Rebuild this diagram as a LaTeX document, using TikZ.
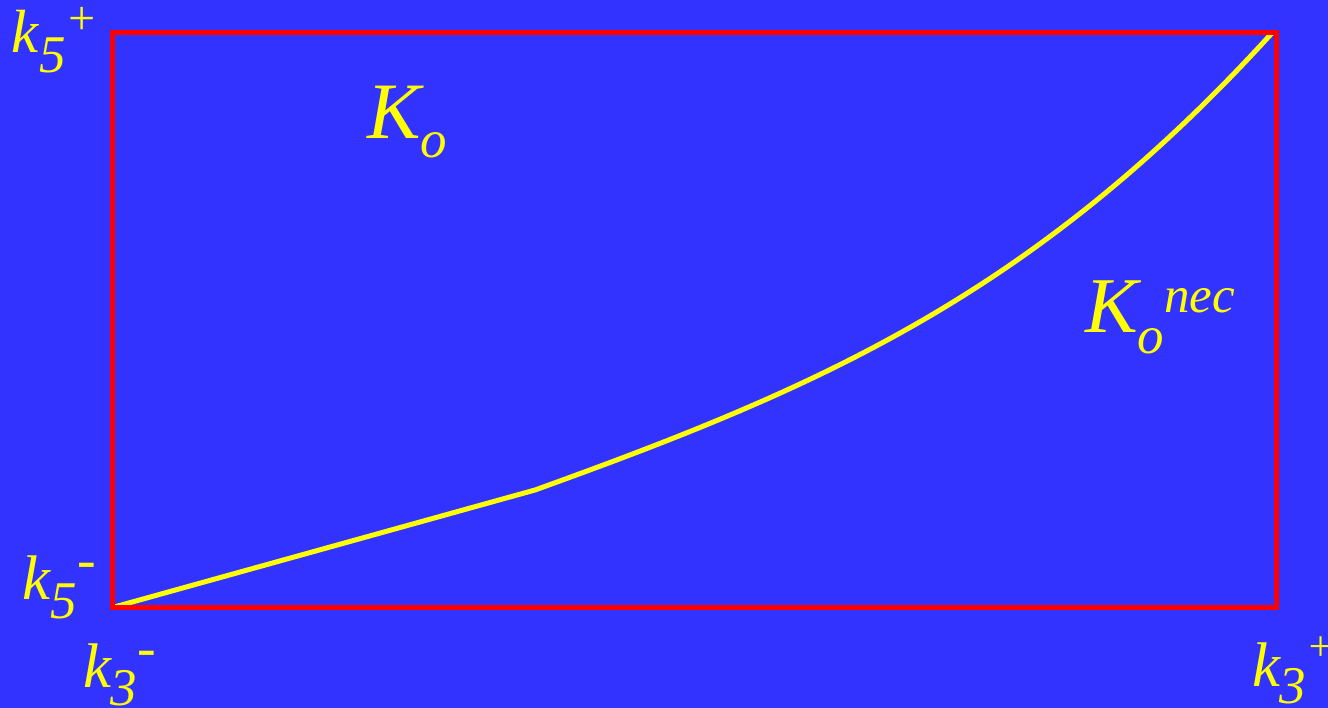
\documentclass[tikz,border=0pt]{standalone}
\usepackage{fontspec}
\setmainfont{Liberation Serif}
\definecolor{bgblue}{RGB}{51,51,255}
\definecolor{lblyellow}{RGB}{255,255,0}
\definecolor{boxred}{RGB}{255,0,0}
\newcommand\fs[1]{\fontsize{#1}{#1}\selectfont\itshape}
\begin{document}
\begin{tikzpicture}[x=1pt,y=-1pt,
  lbl/.style={anchor=base west,inner sep=0pt,outer sep=0pt,text=lblyellow},
  curveline/.style={draw=lblyellow,line width=5pt,line join=round},
  boxline/.style={draw=boxred,line width=5pt}]
\fill[bgblue] (0,0) rectangle (1328,708);
\useasboundingbox (0,0) rectangle (1328,708);
% corners
\coordinate (bl) at (112.5,607.5);
\coordinate (tr) at (1276,32.5);
\coordinate (ce) at (1272,33);
\coordinate (mid) at (535,490);
% curve
\draw[curveline] (bl) -- (mid) .. controls (815,389) and (1032,297) .. (ce);
% box
\draw[boxline] (bl) rectangle (tr);
% labels
\node[lbl] (k5p) at (12,53) {{\fs{61}k}\raisebox{-20pt}{\fs{53}5}\raisebox{18pt}{\fs{48}+}};
\node[lbl] (k5m) at (23,599) {{\fs{63}k}\raisebox{-19pt}{\fs{53}5}\raisebox{21pt}{\fs{56}-}};
\node[lbl] (k3m) at (83,687) {{\fs{63}k}\raisebox{-18pt}{\fs{53}3}\raisebox{21pt}{\fs{56}-}};
\node[lbl] (k3p) at (1252,686) {{\fs{63}k}\raisebox{-17pt}{\fs{53}3}\raisebox{26pt}{\fs{42}+}};
\node[lbl] (ko) at (367,139) {{\fs{80}K}\raisebox{-19pt}{\fs{53}o}};
\node[lbl] (kon) at (1085,333) {{\fs{79}K}\raisebox{-21pt}{\fs{53}o}\raisebox{20pt}{\fs{51}nec}};
\end{tikzpicture}
\end{document}
